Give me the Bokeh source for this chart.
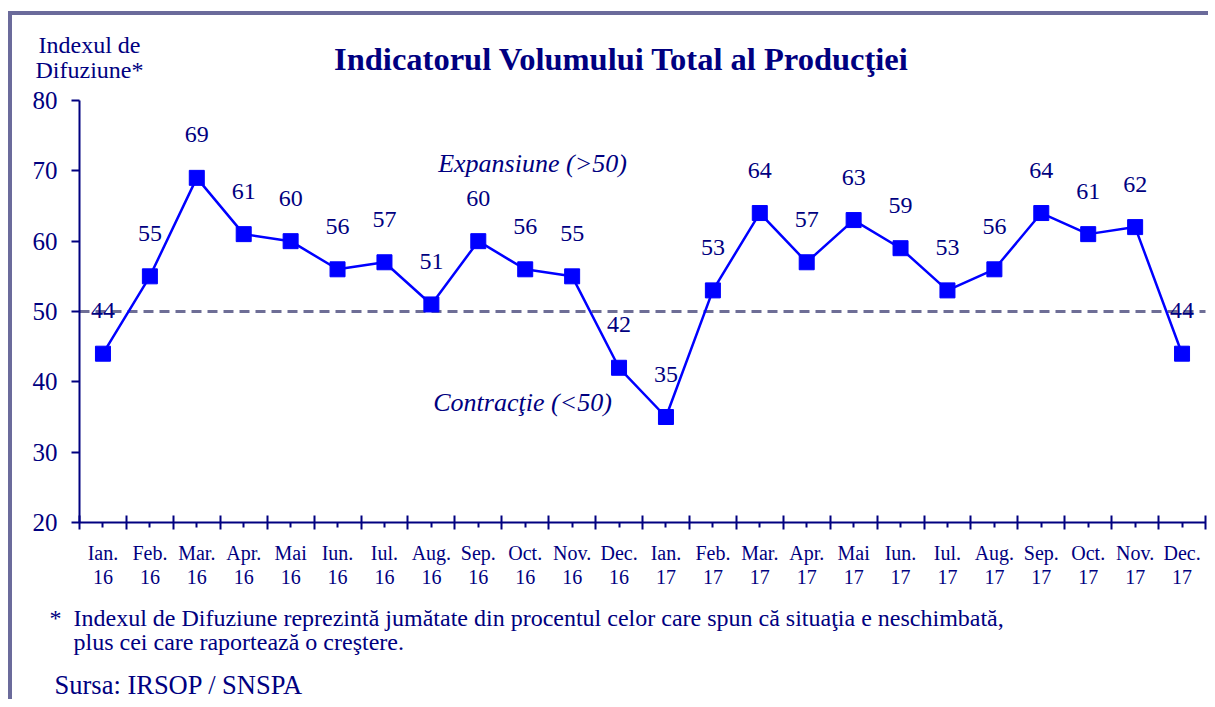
import numpy as np
from bokeh.plotting import figure
from bokeh.models import ColumnDataSource, FixedTicker, Label, Range1d
from bokeh.core.properties import value
from bokeh.embed import file_html
from bokeh.resources import INLINE

# ---- data ----
months = ["Ian.", "Feb.", "Mar.", "Apr.", "Mai", "Iun.", "Iul.", "Aug.", "Sep.", "Oct.", "Nov.", "Dec."]
years = ["16"] * 12 + ["17"] * 12
month_labels = months * 2
values = [44, 55, 69, 61, 60, 56, 57, 51, 60, 56, 55, 42,
          35, 53, 64, 57, 63, 59, 53, 56, 64, 61, 62, 44]
y_ticks = [20, 30, 40, 50, 60, 70, 80]
y_min, y_max = 20, 80
threshold = 50

title_text = "Indicatorul Volumului Total al Producţiei"
ylabel_lines = ["Indexul de", "Difuziune*"]
note_expansion = "Expansiune (>50)"
note_contraction = "Contracţie (<50)"
footnote_star = "*"
footnote_lines = ["Indexul de Difuziune reprezintă jumătate din procentul celor care spun că situaţia e neschimbată,",
                  "plus cei care raportează o creştere."]
source_text = "Sursa: IRSOP / SNSPA"

NAVY = "#000080"
FONT = "Liberation Serif"
FRAME = "#6b6b9b"

n = len(values)
xs = np.arange(n) + 0.5
src = ColumnDataSource(dict(x=xs, y=values, lab=[str(v) for v in values]))

# ---- layout geometry (page pixels) ----
CANVAS_L, CANVAS_T = 12, 15          # canvas origin on the page
W, H = 1200, 688
AX_L, AX_R = 79, 1205                # x-axis extent on the page
AX_T, AX_B = 100, 522                # y-axis extent on the page
PX_X = (AX_R - AX_L) / n
PX_Y = (AX_B - AX_T) / (y_max - y_min)

def dx(px):
    return (px - AX_L) / PX_X

def dy(py):
    return y_min + (AX_B - py) / PX_Y

p = figure(width=W, height=H, output_backend="svg", toolbar_location=None, title=None,
           x_range=Range1d(dx(CANVAS_L), dx(CANVAS_L + W)),
           y_range=Range1d(dy(CANVAS_T + H), dy(CANVAS_T)),
           min_border=0)
p.styles = {"border-left": f"4px solid {FRAME}", "border-top": f"4px solid {FRAME}",
            "margin-top": "11px", "margin-left": "8px"}
p.outline_line_color = None
p.xgrid.visible = False
p.ygrid.visible = False
p.background_fill_color = "white"
p.border_fill_color = "white"

# axes (drawn at fixed data positions)
xa = p.xaxis[0]
xa.fixed_location = y_min
xa.bounds = (0, n)
xa.ticker = FixedTicker(ticks=list(xs), minor_ticks=list(range(n + 1)))
xa.major_label_overrides = {float(x): f"{m}\n{yv}" for x, m, yv in zip(xs, month_labels, years)}
xa.axis_line_color = NAVY
xa.axis_line_width = 2
xa.major_tick_line_color = NAVY
xa.major_tick_line_width = 2
xa.major_tick_in = 0
xa.major_tick_out = 5
xa.minor_tick_line_color = NAVY
xa.minor_tick_line_width = 2
xa.minor_tick_in = 7
xa.minor_tick_out = 7
xa.major_label_text_font = FONT
xa.major_label_text_font_size = "20px"
xa.major_label_text_color = NAVY
xa.major_label_standoff = 12
xa.major_label_text_line_height = 1.12

ya = p.yaxis[0]
ya.fixed_location = 0
ya.bounds = (y_min, y_max)
ya.ticker = FixedTicker(ticks=y_ticks)
ya.axis_line_color = NAVY
ya.axis_line_width = 2
ya.major_tick_line_color = NAVY
ya.major_tick_line_width = 2
ya.major_tick_in = 0
ya.major_tick_out = 8
ya.minor_tick_line_color = None
ya.major_label_text_font = FONT
ya.major_label_text_font_size = "25px"
ya.major_label_text_color = NAVY
ya.major_label_standoff = 14

# threshold line across the category span
p.line(x=[0, n], y=[threshold, threshold], line_color="#6e6e96", line_width=3, line_dash="10 6")

# series
p.line("x", "y", source=src, line_color="#0000ff", line_width=2.5)
p.scatter("x", "y", source=src, marker="square", size=15, fill_color="#0000ff", line_color="#0000ff")
p.text("x", "y", text="lab", source=src, y_offset=-43, text_align="center", text_baseline="middle",
       text_font=value(FONT), text_font_size="24px", text_color=NAVY)

def add_label(text, px, py, size, align="left", style="normal"):
    p.add_layout(Label(x=dx(px), y=dy(py), text=text,
                       text_font=FONT, text_font_size=size, text_align=align,
                       text_baseline="middle", text_font_style=style, text_color=NAVY))

add_label(title_text, 621, 58, "32.5px", align="center", style="bold")
add_label(ylabel_lines[0], 89, 44, "24px", align="center")
add_label(ylabel_lines[1], 89, 69, "24px", align="center")
add_label(note_expansion, 532, 163, "26px", align="center", style="italic")
add_label(note_contraction, 522, 402, "26px", align="center", style="italic")
add_label(footnote_star, 49, 617, "24px")
add_label(footnote_lines[0], 73, 617, "24px")
add_label(footnote_lines[1], 73, 641, "24px")
add_label(source_text, 54, 684, "26.5px")

open("out.html", "w").write(file_html(p, INLINE))
